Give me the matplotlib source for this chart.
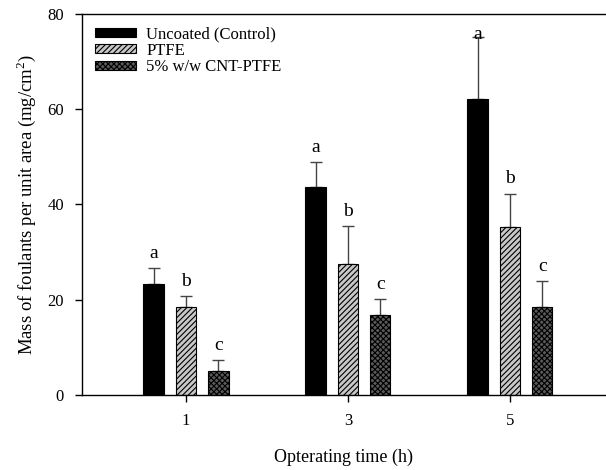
import matplotlib
matplotlib.use("Agg")
import matplotlib.pyplot as plt
import numpy as np

plt.rcParams["font.family"] = ["Liberation Serif", "DejaVu Serif"]
plt.rcParams["hatch.linewidth"] = 0.8
plt.rcParams["mathtext.fontset"] = "custom"
plt.rcParams["mathtext.rm"] = "Liberation Serif"

# Data
times = ["1", "3", "5"]
series = ["Uncoated (Control)", "PTFE", "5% w/w CNT-PTFE"]
uncoated = [23.4, 43.7, 62.1]
uncoated_err = [3.3, 5.2, 13.0]
ptfe = [18.4, 27.5, 35.3]
ptfe_err = [2.4, 8.0, 7.0]
cnt_ptfe = [5.0, 16.8, 18.5]
cnt_ptfe_err = [2.4, 3.4, 5.5]
letters = ["a", "b", "c"]

values = [uncoated, ptfe, cnt_ptfe]
errors = [uncoated_err, ptfe_err, cnt_ptfe_err]
facecolors = ["black", "#c8c8c8", "#5a5a5a"]
hatches = [None, "//////", "xxxxxx"]

fig = plt.figure(figsize=(6.06, 4.70), dpi=100)
ax = fig.add_axes([82 / 606, 75 / 470, 1 - 82 / 606, 381 / 470])

x = np.arange(len(times))
width = 0.125
offsets = [-0.2, 0.0, 0.2]

for vals, errs, fc, h, off, name, letter in zip(values, errors, facecolors, hatches, offsets, series, letters):
    ax.bar(x + off, vals, width, color=fc, edgecolor="black", linewidth=0.8,
           hatch=h, label=name, zorder=2)
    ax.errorbar(x + off, vals, yerr=[np.zeros(len(vals)), errs], fmt="none",
                ecolor="#444444", elinewidth=1, capsize=4, capthick=1, zorder=1)
    for xi, v, e in zip(x + off, vals, errs):
        ytxt = min(v + e + 1.3, 74.0)
        ax.text(xi, ytxt, letter, ha="center", va="bottom", fontsize=14)

ax.set_xlim(-0.642, 2.593)
ax.set_ylim(0, 80)
ax.set_xticks(x)
ax.set_xticklabels(times)
ax.set_yticks([0, 20, 40, 60, 80])
ax.tick_params(axis="both", direction="out", length=5, width=1, labelsize=12, pad=8)
ax.spines["right"].set_visible(False)
for s in ["top", "left", "bottom"]:
    ax.spines[s].set_linewidth(1)

ax.set_xlabel("Opterating time (h)", fontsize=13, labelpad=14)
ax.set_ylabel("Mass of foulants per unit area (mg/cm$^2$)", fontsize=13.5, labelpad=7)

ax.legend(loc="upper left", bbox_to_anchor=(0.0, 1.0), frameon=False, fontsize=12,
          handlelength=2.5, handleheight=0.45, handletextpad=0.6,
          labelspacing=0.02, borderaxespad=0.3, borderpad=0.45)

fig.savefig("out.png", dpi=100)
